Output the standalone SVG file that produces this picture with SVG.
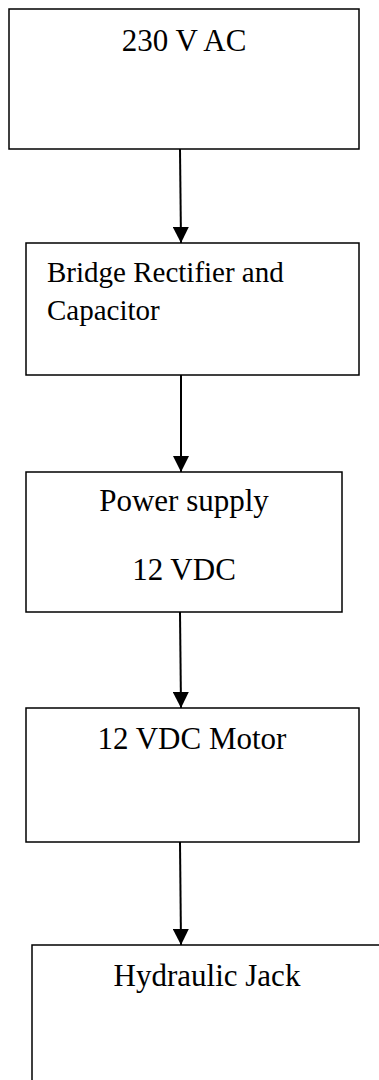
<svg xmlns="http://www.w3.org/2000/svg" width="379" height="1080" viewBox="0 0 379 1080">
<defs>
<style>
.box{fill:#fff;stroke:#000;stroke-width:1.5}
.t{font-family:"Liberation Serif","Times New Roman",serif;font-size:31px;fill:#000}
.c{text-anchor:middle}
.conn line{stroke:#000;stroke-width:2}
</style>
<marker id="arr" markerUnits="userSpaceOnUse" markerWidth="16" markerHeight="16" viewBox="0 0 16 16" refX="16" refY="8" orient="auto">
<path d="M0,0 L16,8 L0,16 Z" fill="#000"/>
</marker>
</defs>
<rect width="379" height="1080" fill="#fff"/>
<g id="node-ac">
<rect class="box" x="9" y="9" width="350" height="140"/>
<text class="t c" x="184" y="51">230 V AC</text>
</g>
<g id="node-rectifier">
<rect class="box" x="26" y="243" width="333" height="132"/>
<text class="t" x="47" y="282" style="font-size:29px">Bridge Rectifier and</text>
<text class="t" x="47" y="320" style="font-size:29px">Capacitor</text>
</g>
<g id="node-psu">
<rect class="box" x="26" y="472" width="316" height="140"/>
<text class="t c" x="184" y="511">Power supply</text>
<text class="t c" x="184" y="580">12 VDC</text>
</g>
<g id="node-motor">
<rect class="box" x="26" y="708" width="333" height="134"/>
<text class="t c" x="192" y="749">12 VDC Motor</text>
</g>
<g id="node-jack">
<rect class="box" x="32" y="945" width="360" height="150"/>
<text class="t c" x="207" y="986">Hydraulic Jack</text>
</g>
<g id="connectors" class="conn">
<line x1="180" y1="149" x2="181" y2="243" marker-end="url(#arr)"/>
<line x1="181" y1="375" x2="181" y2="472" marker-end="url(#arr)"/>
<line x1="180" y1="612" x2="181" y2="708" marker-end="url(#arr)"/>
<line x1="180" y1="842" x2="181" y2="945" marker-end="url(#arr)"/>
</g>
</svg>
